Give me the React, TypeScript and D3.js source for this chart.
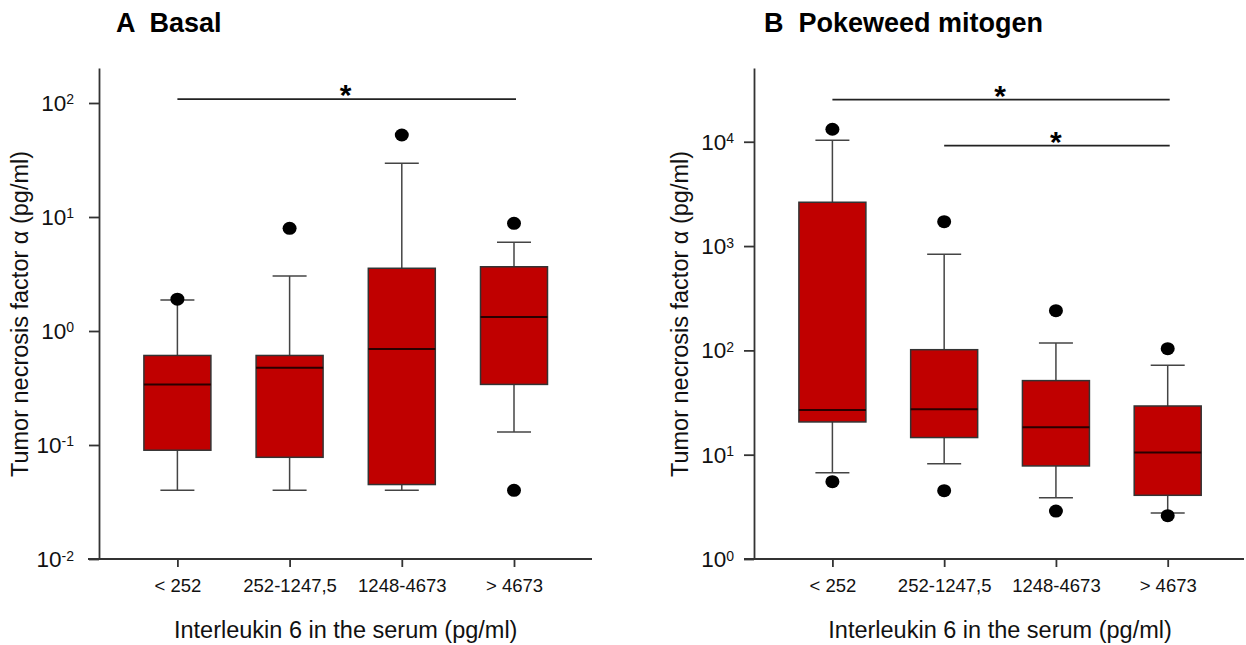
import React, { useEffect, useRef } from "react";
import * as d3 from "d3";

const categories = ["< 252", "252-1247,5", "1248-4673", "> 4673"];

// Panel A – Basal
const basalQ1 = [0.09, 0.078, 0.045, 0.34];
const basalMedian = [0.34, 0.477, 0.695, 1.33];
const basalQ3 = [0.61, 0.61, 3.55, 3.66];
const basalWhiskerLow = [0.04, 0.04, 0.04, 0.13];
const basalWhiskerHigh = [1.87, 3.04, 29.6, 6.0];
const basalOutliers = [[1.9], [7.95], [52.4], [8.8, 0.04]];
const basalTicks = [0.01, 0.1, 1, 10, 100];
const basalExponents = ["-2", "-1", "0", "1", "2"];
const basalSig = [{ from: 0, to: 3, level: 108 }];

// Panel B – Pokeweed mitogen
const pwmQ1 = [20.6, 14.6, 7.8, 4.08];
const pwmMedian = [26.8, 27.2, 18.3, 10.5];
const pwmQ3 = [2630, 101.5, 51.3, 29.3];
const pwmWhiskerLow = [6.72, 8.2, 3.87, 2.76];
const pwmWhiskerHigh = [10330, 834, 118, 71.9];
const pwmOutliers = [[13180, 5.51], [1714, 4.52], [240, 2.88], [103.8, 2.6]];
const pwmTicks = [1, 10, 100, 1000, 10000];
const pwmExponents = ["0", "1", "2", "3", "4"];
const pwmSig = [
  { from: 0, to: 3, level: 25350 },
  { from: 1, to: 3, level: 9180 },
];

const FONT = "'Liberation Sans', Arial, Helvetica, sans-serif";
const RED = "#c00000";

type Panel = {
  title: string;
  q1: number[];
  med: number[];
  q3: number[];
  wl: number[];
  wh: number[];
  out: number[][];
  ticks: number[];
  exps: string[];
  sig: { from: number; to: number; level: number }[];
  domain: [number, number];
  yAxisX: number;
  xStart: number;
  xEnd: number;
  centers: [number, number];
  titleX: number;
  yTitleX: number;
  labelGap: number;
};

const panels: Panel[] = [
  {
    title: "A  Basal",
    q1: basalQ1, med: basalMedian, q3: basalQ3, wl: basalWhiskerLow, wh: basalWhiskerHigh, out: basalOutliers,
    ticks: basalTicks, exps: basalExponents, sig: basalSig,
    domain: [0.01, Math.pow(10, 2.307)],
    yAxisX: 99, xStart: 88, xEnd: 592, centers: [177.4, 514],
    titleX: 116, yTitleX: 28, labelGap: 25,
  },
  {
    title: "B  Pokeweed mitogen",
    q1: pwmQ1, med: pwmMedian, q3: pwmQ3, wl: pwmWhiskerLow, wh: pwmWhiskerHigh, out: pwmOutliers,
    ticks: pwmTicks, exps: pwmExponents, sig: pwmSig,
    domain: [1, Math.pow(10, 4.707)],
    yAxisX: 754, xStart: 744, xEnd: 1244, centers: [832.4, 1167.7],
    titleX: 764, yTitleX: 688, labelGap: 20,
  },
];

const TOP = 68;
const BOTTOM = 559;
const BOX_W = 67;
const CAP_W = 34;

export default function App() {
  const ref = useRef<SVGSVGElement | null>(null);

  useEffect(() => {
    const svg = d3.select(ref.current);
    svg.selectAll("*").remove();

    panels.forEach((p) => {
      const g = svg.append("g");
      const y = d3.scaleLog().domain(p.domain).range([BOTTOM, TOP]);
      const x = d3.scalePoint<string>().domain(categories).range(p.centers).padding(0);

      // title
      g.append("text")
        .attr("x", p.titleX)
        .attr("y", 32)
        .attr("font-family", FONT)
        .attr("font-weight", "bold")
        .attr("font-size", 27)
        .style("white-space", "pre")
        .attr("fill", "#000")
        .text(p.title);

      // y axis
      const yAxis = d3.axisLeft(y).tickValues(p.ticks).tickSize(10).tickSizeOuter(0).tickFormat(() => "");
      const ya = g.append("g").attr("transform", `translate(${p.yAxisX},0)`).call(yAxis);
      ya.selectAll("path, line").attr("stroke", "#333").attr("stroke-width", 1.8);
      ya.selectAll(".tick text").remove();
      p.ticks.forEach((t, i) => {
        const ty = y(t);
        const txt = g.append("text")
          .attr("x", p.yAxisX - p.labelGap)
          .attr("y", ty + 8)
          .attr("text-anchor", "end")
          .attr("font-family", FONT)
          .attr("font-size", 22.5)
          .attr("fill", "#111");
        txt.append("tspan").text("10");
        txt.append("tspan").attr("font-size", 14).attr("dy", -6.5).text(p.exps[i]);
      });

      // x axis
      const xAxis = d3.axisBottom(x).tickSize(8).tickSizeOuter(0);
      const xa = g.append("g").attr("transform", `translate(0,${BOTTOM})`).call(xAxis);
      xa.select(".domain").remove();
      xa.selectAll("line").attr("stroke", "#333").attr("stroke-width", 1.8);
      xa.selectAll("text")
        .attr("font-family", FONT)
        .attr("font-size", 18.5)
        .attr("fill", "#111")
        .attr("dy", null)
        .attr("y", 33);
      g.append("line")
        .attr("x1", p.xStart).attr("x2", p.xEnd)
        .attr("y1", BOTTOM).attr("y2", BOTTOM)
        .attr("stroke", "#333").attr("stroke-width", 1.8);

      // axis titles
      g.append("text")
        .attr("x", (p.centers[0] + p.centers[1]) / 2)
        .attr("y", 638)
        .attr("text-anchor", "middle")
        .attr("font-family", FONT)
        .attr("font-size", 23.5)
        .attr("fill", "#111")
        .text("Interleukin 6 in the serum (pg/ml)");
      g.append("text")
        .attr("transform", `translate(${p.yTitleX},314) rotate(-90)`)
        .attr("text-anchor", "middle")
        .attr("font-family", FONT)
        .attr("font-size", 23.5)
        .attr("fill", "#111")
        .text("Tumor necrosis factor \u03b1 (pg/ml)");

      // boxes
      categories.forEach((c, i) => {
        const cx = x(c) as number;
        const bg = g.append("g");
        bg.append("line").attr("x1", cx).attr("x2", cx).attr("y1", y(p.q3[i])).attr("y2", y(p.wh[i]))
          .attr("stroke", "#444").attr("stroke-width", 1.5);
        bg.append("line").attr("x1", cx).attr("x2", cx).attr("y1", y(p.q1[i])).attr("y2", y(p.wl[i]))
          .attr("stroke", "#444").attr("stroke-width", 1.5);
        [p.wh[i], p.wl[i]].forEach((v) => {
          bg.append("line").attr("x1", cx - CAP_W / 2).attr("x2", cx + CAP_W / 2)
            .attr("y1", y(v)).attr("y2", y(v))
            .attr("stroke", "#444").attr("stroke-width", 1.5);
        });
        bg.append("rect")
          .attr("x", cx - BOX_W / 2)
          .attr("width", BOX_W)
          .attr("y", y(p.q3[i]))
          .attr("height", y(p.q1[i]) - y(p.q3[i]))
          .attr("fill", RED)
          .attr("stroke", "#333")
          .attr("stroke-width", 1.5);
        bg.append("line").attr("x1", cx - BOX_W / 2).attr("x2", cx + BOX_W / 2)
          .attr("y1", y(p.med[i])).attr("y2", y(p.med[i]))
          .attr("stroke", "#2a0000").attr("stroke-width", 2);
        p.out[i].forEach((v) => {
          bg.append("ellipse").attr("cx", cx).attr("cy", y(v)).attr("rx", 7).attr("ry", 6.5).attr("fill", "#000");
        });
      });

      // significance brackets
      p.sig.forEach((s) => {
        const x1 = x(categories[s.from]) as number;
        const x2 = x(categories[s.to]) as number;
        const ly = y(s.level);
        g.append("line").attr("x1", x1).attr("x2", x2 + 2).attr("y1", ly).attr("y2", ly)
          .attr("stroke", "#222").attr("stroke-width", 1.8);
        g.append("text")
          .attr("x", (x1 + x2) / 2)
          .attr("y", ly + 6)
          .attr("text-anchor", "middle")
          .attr("font-family", FONT)
          .attr("font-weight", "bold")
          .attr("font-size", 30)
          .attr("fill", "#000")
          .text("*");
      });
    });
  }, []);

  return (
    <svg
      ref={ref}
      width={1246}
      height={645}
      style={{ position: "absolute", left: 0, top: 0, background: "#fff" }}
    />
  );
}
